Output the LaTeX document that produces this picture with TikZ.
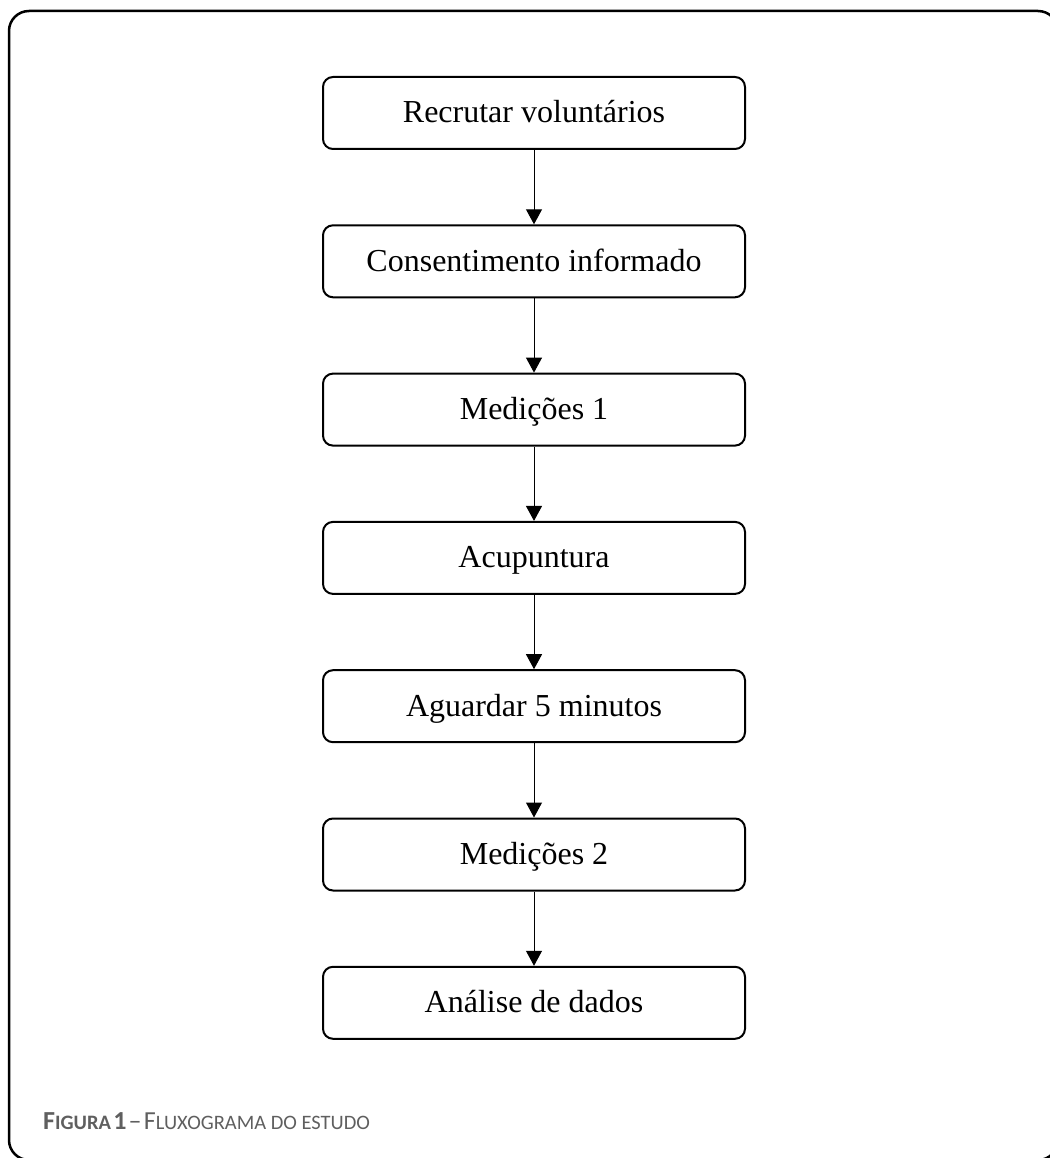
\documentclass[tikz,border=0pt]{standalone}
\usepackage{fontspec}
\setmainfont{Liberation Serif}
\newfontfamily\capfont{Carlito}
\usetikzlibrary{arrows.meta}
\definecolor{capgray}{RGB}{95,95,95}
\newcommand{\capbig}[1]{{\fontsize{26}{31}\selectfont #1}}
\newcommand{\capsmall}[1]{{\fontsize{20.5}{25}\selectfont #1}}
\tikzset{
  stepbox/.style={draw, line width=2pt, rounded corners=10pt, minimum width=422pt, minimum height=72pt,
    inner sep=0pt, text height=20pt, text depth=0pt, font=\fontsize{32}{38}\selectfont},
  flow/.style={line width=1pt, -{Triangle[width=16pt,length=15pt]}},
  frame/.style={draw, line width=2.5pt, rounded corners=20pt}
}
\begin{document}
\begin{tikzpicture}[x=1pt,y=-1pt]
\useasboundingbox (0,0) rectangle (1049,1158);
\draw[frame] (9,11) rectangle (1058,1160);
\node[stepbox] (a) at (534,113) {Recrutar voluntários};
\node[stepbox] (b) at (534,261.3) {Consentimento informado};
\node[stepbox] (c) at (534,409.6) {Medições 1};
\node[stepbox] (d) at (534,557.9) {Acupuntura};
\node[stepbox] (e) at (534,706.2) {Aguardar 5 minutos};
\node[stepbox] (f) at (534,854.5) {Medições 2};
\node[stepbox] (g) at (534,1002.8) {Análise de dados};
\foreach \u/\v in {a/b,b/c,c/d,d/e,e/f,f/g}
  \draw[flow] (\u.south) -- (\v.north);
\node[anchor=base west, inner sep=0pt, text=capgray, font=\capfont] (cap) at (43,1129)
  {\textbf{\capbig{F}\capsmall{IGURA} \capbig{1}} \capbig{–} \capbig{F}\capsmall{LUXOGRAMA DO ESTUDO}};
\end{tikzpicture}
\end{document}
